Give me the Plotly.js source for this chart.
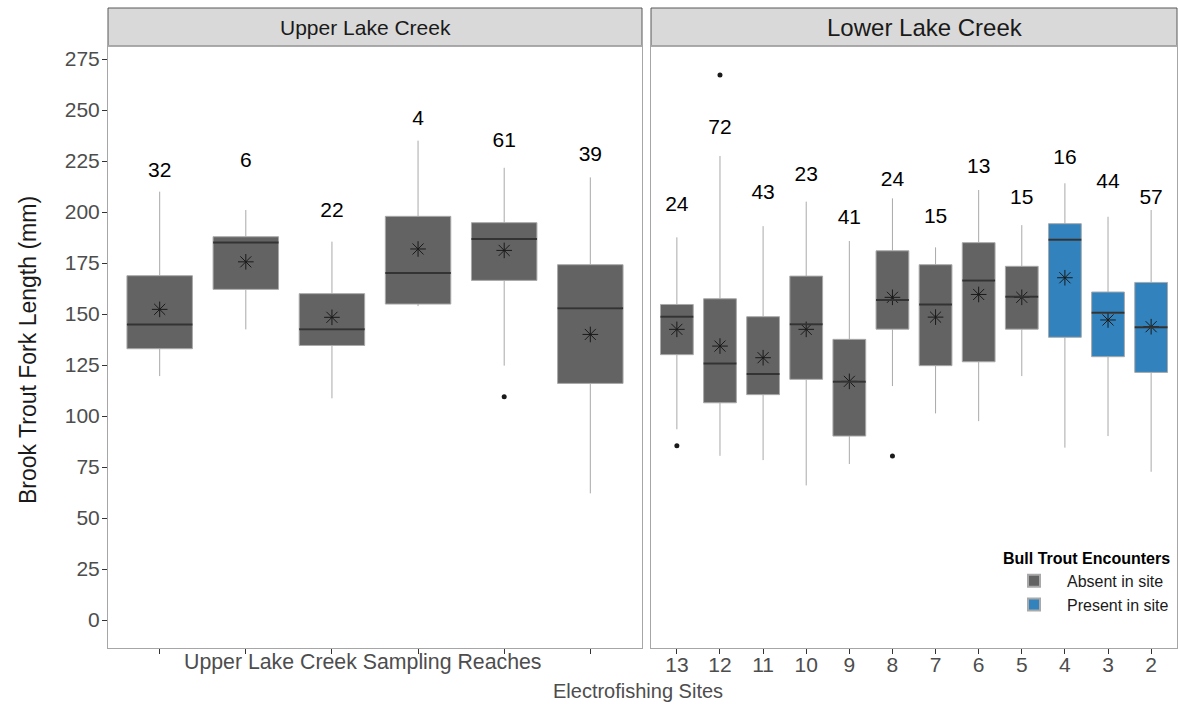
<!DOCTYPE html>
<html><head><meta charset="utf-8">
<script src="https://cdn.plot.ly/plotly-3.0.1.min.js"></script>
<style>html,body{margin:0;padding:0;background:#fff}#chart{width:1178px;height:704px}</style>
</head><body><div id="chart"></div>
<script>
// ---------- data ----------
const upperSites = ['U1','U2','U3','U4','U5','U6'];
const upperN = [32, 6, 22, 4, 61, 39];
const upperLower = [119.6, 142.5, 108.7, 153.9, 124.7, 62.1];
const upperQ1 = [133.0, 162.1, 134.6, 154.9, 166.5, 116.0];
const upperMedian = [144.9, 185.1, 142.6, 170.1, 186.8, 152.9];
const upperQ3 = [168.8, 187.9, 160.0, 197.9, 194.8, 174.2];
const upperUpper = [210.0, 201.0, 185.5, 235.0, 221.7, 217.0];
const upperMean = [152.3, 175.6, 148.4, 181.9, 181.2, 140.0];
const upperLabelY = [219.8, 224.7, 200.2, 245.4, 234.5, 227.6];
const upperOutSite = ['U5'];
const upperOutVal = [109.5];

const lowerSites = ['13','12','11','10','9','8','7','6','5','4','3','2'];
const lowerBullTrout = ['Absent','Absent','Absent','Absent','Absent','Absent','Absent','Absent','Absent','Present','Present','Present'];
const lowerN = [24, 72, 43, 23, 41, 24, 15, 13, 15, 16, 44, 57];
const lowerLower = [93.5, 80.5, 78.4, 66.0, 76.5, 114.7, 101.3, 97.5, 119.6, 84.5, 90.2, 72.7];
const lowerQ1 = [130.1, 106.5, 110.5, 118.0, 90.2, 142.6, 124.7, 126.6, 142.6, 138.6, 129.1, 121.4];
const lowerMedian = [148.7, 125.8, 120.6, 145.0, 116.8, 156.9, 154.7, 166.5, 158.5, 186.4, 150.6, 143.5];
const lowerQ3 = [154.7, 157.5, 148.7, 168.6, 137.6, 181.0, 174.2, 185.0, 173.4, 194.3, 160.8, 165.5];
const lowerUpper = [187.6, 227.5, 193.1, 205.1, 185.8, 206.7, 182.7, 210.8, 193.6, 214.1, 197.7, 201.0];
const lowerMean = [142.5, 134.3, 128.6, 142.5, 117.0, 158.2, 148.5, 159.6, 158.2, 167.8, 147.1, 143.8];
const lowerLabelY = [202.9, 241.0, 209.2, 217.8, 196.9, 215.4, 197.4, 221.9, 206.7, 226.3, 214.5, 206.7];
const lowerOutSite = ['13','12','8'];
const lowerOutVal = [85.5, 267.2, 80.4];

const yTicks = [0, 25, 50, 75, 100, 125, 150, 175, 200, 225, 250, 275];

// ---------- styling ----------
const FONT = 'Liberation Sans, Arial, sans-serif';
const GREY = '#636363', BLUE = '#3182bd';
const BOXW = 0.76;
const W = 1178, H = 704, ML = 108, MR = 1, MT = 46, MB = 56;
const PW = W - ML - MR, PH = H - MT - MB;
const leftDom = [0, 534 / PW], rightDom = [543 / PW, 1];
const px = x => (x - ML) / PW;           // pixel column -> paper x
const py = y => (MT + PH - y) / PH;      // pixel row -> paper y

function pick(arr, mask) { return arr.filter((_, i) => mask[i]); }
const isAbs = lowerBullTrout.map(b => b === 'Absent');
const isPre = lowerBullTrout.map(b => b === 'Present');

function boxTrace(xs, lo, q1, med, q3, hi, fill, name, showlegend, xa, ya) {
  return {
    type: 'box', x: xs, lowerfence: lo, q1: q1, median: med, q3: q3, upperfence: hi,
    xaxis: xa, yaxis: ya, width: BOXW, whiskerwidth: 0,
    fillcolor: fill, line: {color: '#a9a9a9', width: 1},
    name: name, showlegend: showlegend, legendgroup: name, boxpoints: false,
    hoverinfo: 'skip'
  };
}

const meanMarker = {symbol: 'asterisk-open', size: 13, color: '#1a1a1a', line: {color: '#1a1a1a', width: 1}};
const traces = [
  boxTrace(upperSites, upperLower, upperQ1, upperMedian, upperQ3, upperUpper, GREY, 'Absent in site', true, 'x', 'y'),
  boxTrace(pick(lowerSites, isAbs), pick(lowerLower, isAbs), pick(lowerQ1, isAbs), pick(lowerMedian, isAbs),
           pick(lowerQ3, isAbs), pick(lowerUpper, isAbs), GREY, 'Absent in site', false, 'x2', 'y2'),
  boxTrace(pick(lowerSites, isPre), pick(lowerLower, isPre), pick(lowerQ1, isPre), pick(lowerMedian, isPre),
           pick(lowerQ3, isPre), pick(lowerUpper, isPre), BLUE, 'Present in site', true, 'x2', 'y2'),
  // means
  {type: 'scatter', mode: 'markers', x: upperSites, y: upperMean, xaxis: 'x', yaxis: 'y', showlegend: false,
   marker: meanMarker, hoverinfo: 'skip'},
  {type: 'scatter', mode: 'markers', x: lowerSites, y: lowerMean, xaxis: 'x2', yaxis: 'y2', showlegend: false,
   marker: meanMarker, hoverinfo: 'skip'},
  // outliers
  {type: 'scatter', mode: 'markers', x: upperOutSite, y: upperOutVal, xaxis: 'x', yaxis: 'y', showlegend: false,
   marker: {symbol: 'circle', size: 5, color: '#1a1a1a'}, hoverinfo: 'skip'},
  {type: 'scatter', mode: 'markers', x: lowerOutSite, y: lowerOutVal, xaxis: 'x2', yaxis: 'y2', showlegend: false,
   marker: {symbol: 'circle', size: 5, color: '#1a1a1a'}, hoverinfo: 'skip'},
  // counts
  {type: 'scatter', mode: 'text', x: upperSites, y: upperLabelY, text: upperN.map(String), xaxis: 'x', yaxis: 'y',
   textposition: 'middle center', textfont: {family: FONT, size: 21, color: '#000'}, showlegend: false, hoverinfo: 'skip'},
  {type: 'scatter', mode: 'text', x: lowerSites, y: lowerLabelY, text: lowerN.map(String), xaxis: 'x2', yaxis: 'y2',
   textposition: 'middle center', textfont: {family: FONT, size: 21, color: '#000'}, showlegend: false, hoverinfo: 'skip'}
];

// median lines drawn over the boxes
const shapes = [];
upperMedian.forEach((m, i) => shapes.push({type: 'line', xref: 'x', yref: 'y', x0: i - BOXW / 2, x1: i + BOXW / 2,
  y0: m, y1: m, line: {color: '#333333', width: 2}}));
lowerMedian.forEach((m, i) => shapes.push({type: 'line', xref: 'x2', yref: 'y2', x0: i - BOXW / 2, x1: i + BOXW / 2,
  y0: m, y1: m, line: {color: '#333333', width: 2}}));
// strips
const stripTop = 1 + 38 / PH;
[leftDom, rightDom].forEach(d => shapes.push({type: 'rect', xref: 'paper', yref: 'paper', x0: d[0], x1: d[1],
  y0: 1, y1: stripTop, fillcolor: '#d9d9d9', line: {color: '#595959', width: 1}, layer: 'below'}));

const yRange = [-13.7, 281.4];
const axisCommon = {showgrid: false, zeroline: false, showline: true, mirror: true, linecolor: '#a6a6a6', linewidth: 1,
  ticks: 'outside', ticklen: 5, tickcolor: '#333333', tickfont: {family: FONT, size: 21, color: '#4d4d4d'}};

const layout = {
  width: W, height: H, margin: {l: ML, r: MR, t: MT, b: MB, pad: 0, autoexpand: false},
  paper_bgcolor: '#fff', plot_bgcolor: '#fff', boxmode: 'overlay',
  font: {family: FONT},
  xaxis: Object.assign({}, axisCommon, {domain: leftDom, type: 'category', categoryorder: 'array',
    categoryarray: upperSites, showticklabels: false, anchor: 'y', range: [-0.6, upperSites.length - 0.4]}),
  xaxis2: Object.assign({}, axisCommon, {domain: rightDom, type: 'category', categoryorder: 'array',
    categoryarray: lowerSites, anchor: 'y2', range: [-0.6, lowerSites.length - 0.4], ticklabelstandoff: -7}),
  yaxis: Object.assign({}, axisCommon, {range: yRange, tickvals: yTicks, anchor: 'x', ticklabelstandoff: -2}),
  yaxis2: Object.assign({}, axisCommon, {range: yRange, matches: 'y', anchor: 'x2', showticklabels: false, ticks: ''}),
  shapes: shapes,
  showlegend: true,
  legend: {x: px(1001), y: py(543), xanchor: 'left', yanchor: 'top', bgcolor: 'rgba(0,0,0,0)', itemwidth: 56,
    title: {text: '<b>Bull Trout Encounters</b>', font: {family: FONT, size: 16, color: '#000'}},
    font: {family: FONT, size: 16, color: '#1a1a1a'}, traceorder: 'normal', tracegroupgap: 13, itemsizing: 'constant'},
  annotations: [
    {text: 'Upper Lake Creek', xref: 'paper', yref: 'paper', x: px(365), y: (1 + stripTop) / 2,
     xanchor: 'center', yanchor: 'middle', showarrow: false, font: {family: FONT, size: 21, color: '#1a1a1a'}},
    {text: 'Lower Lake Creek', xref: 'paper', yref: 'paper', x: px(925), y: (1 + stripTop) / 2,
     xanchor: 'center', yanchor: 'middle', showarrow: false, font: {family: FONT, size: 24, color: '#1a1a1a'}},
    {text: 'Upper Lake Creek Sampling Reaches', xref: 'paper', yref: 'paper', x: px(363), y: py(662),
     xanchor: 'center', yanchor: 'middle', showarrow: false, font: {family: FONT, size: 21.3, color: '#4d4d4d'}},
    {text: 'Electrofishing Sites', xref: 'paper', yref: 'paper', x: px(638), y: py(691),
     xanchor: 'center', yanchor: 'middle', showarrow: false, font: {family: FONT, size: 20, color: '#4d4d4d'}},
    {text: 'Brook Trout Fork Length (mm)', xref: 'paper', yref: 'paper', x: px(28), y: py(350),
     xanchor: 'center', yanchor: 'middle', textangle: -90, showarrow: false, font: {family: FONT, size: 23, color: '#1a1a1a'}}
  ]
};

Plotly.newPlot('chart', traces, layout, {staticPlot: true, displayModeBar: false});
</script>
</body></html>
